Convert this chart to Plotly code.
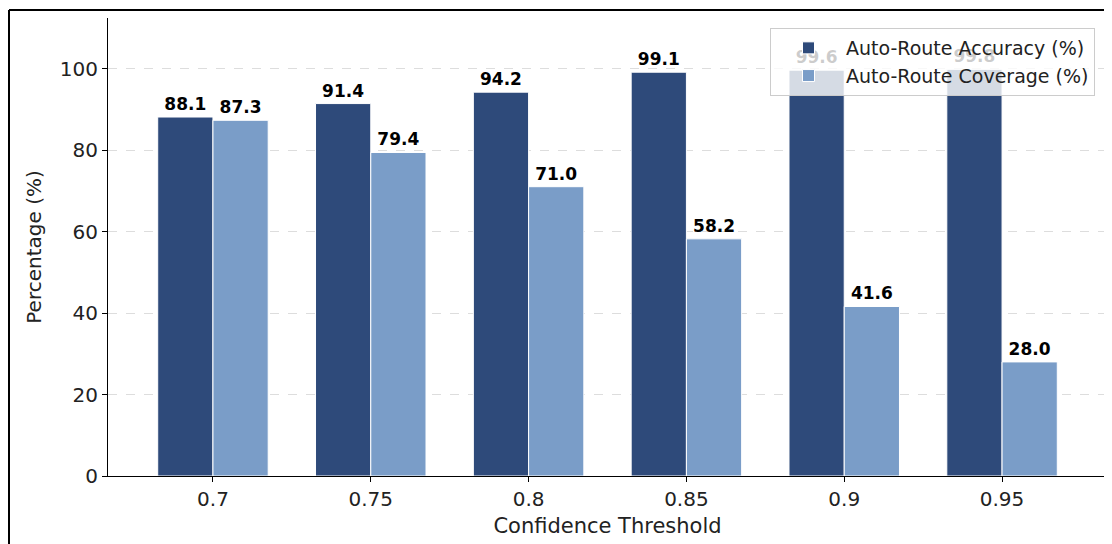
import plotly.graph_objects as go

thresholds = ["0.7", "0.75", "0.8", "0.85", "0.9", "0.95"]
accuracy = [88.1, 91.4, 94.2, 99.1, 99.6, 99.8]
coverage = [87.3, 79.4, 71.0, 58.2, 41.6, 28.0]
y_ticks = [0, 20, 40, 60, 80, 100]

FONT = "DejaVu Sans"
DARK = "#2E4A7A"
LIGHT = "#7A9DC8"

x_idx = list(range(len(thresholds)))

fig = go.Figure()
fig.add_trace(go.Bar(
    x=x_idx, y=accuracy, name="Auto-Route Accuracy (%)",
    marker=dict(color=DARK, line=dict(color="white", width=1)),
    text=[f"{v:.1f}" for v in accuracy], textposition="outside",
    textfont=dict(family=FONT, size=17, color="black", weight="bold"),
    constraintext="none", cliponaxis=False,
))
fig.add_trace(go.Bar(
    x=x_idx, y=coverage, name="Auto-Route Coverage (%)",
    marker=dict(color=LIGHT, line=dict(color="white", width=1)),
    text=[f"{v:.1f}" for v in coverage], textposition="outside",
    textfont=dict(family=FONT, size=17, color="black", weight="bold"),
    constraintext="none", cliponaxis=False,
))

# page has an 8px body margin; figure origin is at page (8, 8)
OFF = 8
W, H = 1104, 536
L, R, T, B = 108 - OFF, 5, 18 - OFF, 68
pw = W - L - R
ph = H - T - B

def px_x(p):
    return (p - OFF - L) / pw

def px_y(p):
    return (H - B - (p - OFF)) / ph

fig.update_layout(
    width=W, height=H,
    margin=dict(l=L, r=R, t=T, b=B),
    paper_bgcolor="white", plot_bgcolor="white",
    barmode="group", bargap=0.3, bargroupgap=0,
    font=dict(family=FONT, size=20, color="#222"),
    legend=dict(
        x=px_x(1095), xanchor="right", y=px_y(28), yanchor="top",
        bgcolor="rgba(255,255,255,0.8)", bordercolor="#cccccc", borderwidth=1,
        font=dict(family=FONT, size=19, color="#222"),
        traceorder="normal", itemwidth=65, tracegroupgap=0,
    ),
    showlegend=True,
    shapes=[
        dict(type="line", xref="paper", yref="paper",
             x0=px_x(9), x1=px_x(1112), y0=px_y(10), y1=px_y(10),
             line=dict(color="black", width=2)),
        dict(type="line", xref="paper", yref="paper",
             x0=px_x(9), x1=px_x(9), y0=px_y(10), y1=px_y(550),
             line=dict(color="black", width=2)),
    ],
)

fig.update_xaxes(
    range=[-0.665, 5.665],
    tickmode="array", tickvals=x_idx, ticktext=thresholds,
    showline=True, linecolor="black", linewidth=1.2,
    ticks="outside", ticklen=5, tickcolor="black",
    showgrid=False, zeroline=False,
    title=dict(text="Confidence Threshold", standoff=8,
               font=dict(family=FONT, size=21, color="#222")),
    tickfont=dict(family=FONT, size=20, color="#222"),
)
fig.update_yaxes(
    range=[0, 112.4],
    tickmode="array", tickvals=y_ticks,
    showline=True, linecolor="black", linewidth=1.2,
    ticks="outside", ticklen=5, tickcolor="black",
    showgrid=True, gridcolor="#dddddd", griddash="dash", gridwidth=1,
    zeroline=False,
    title=dict(text="Percentage (%)", standoff=12,
               font=dict(family=FONT, size=20, color="#222")),
    tickfont=dict(family=FONT, size=20, color="#222"),
)

fig.write_html("out.html")
